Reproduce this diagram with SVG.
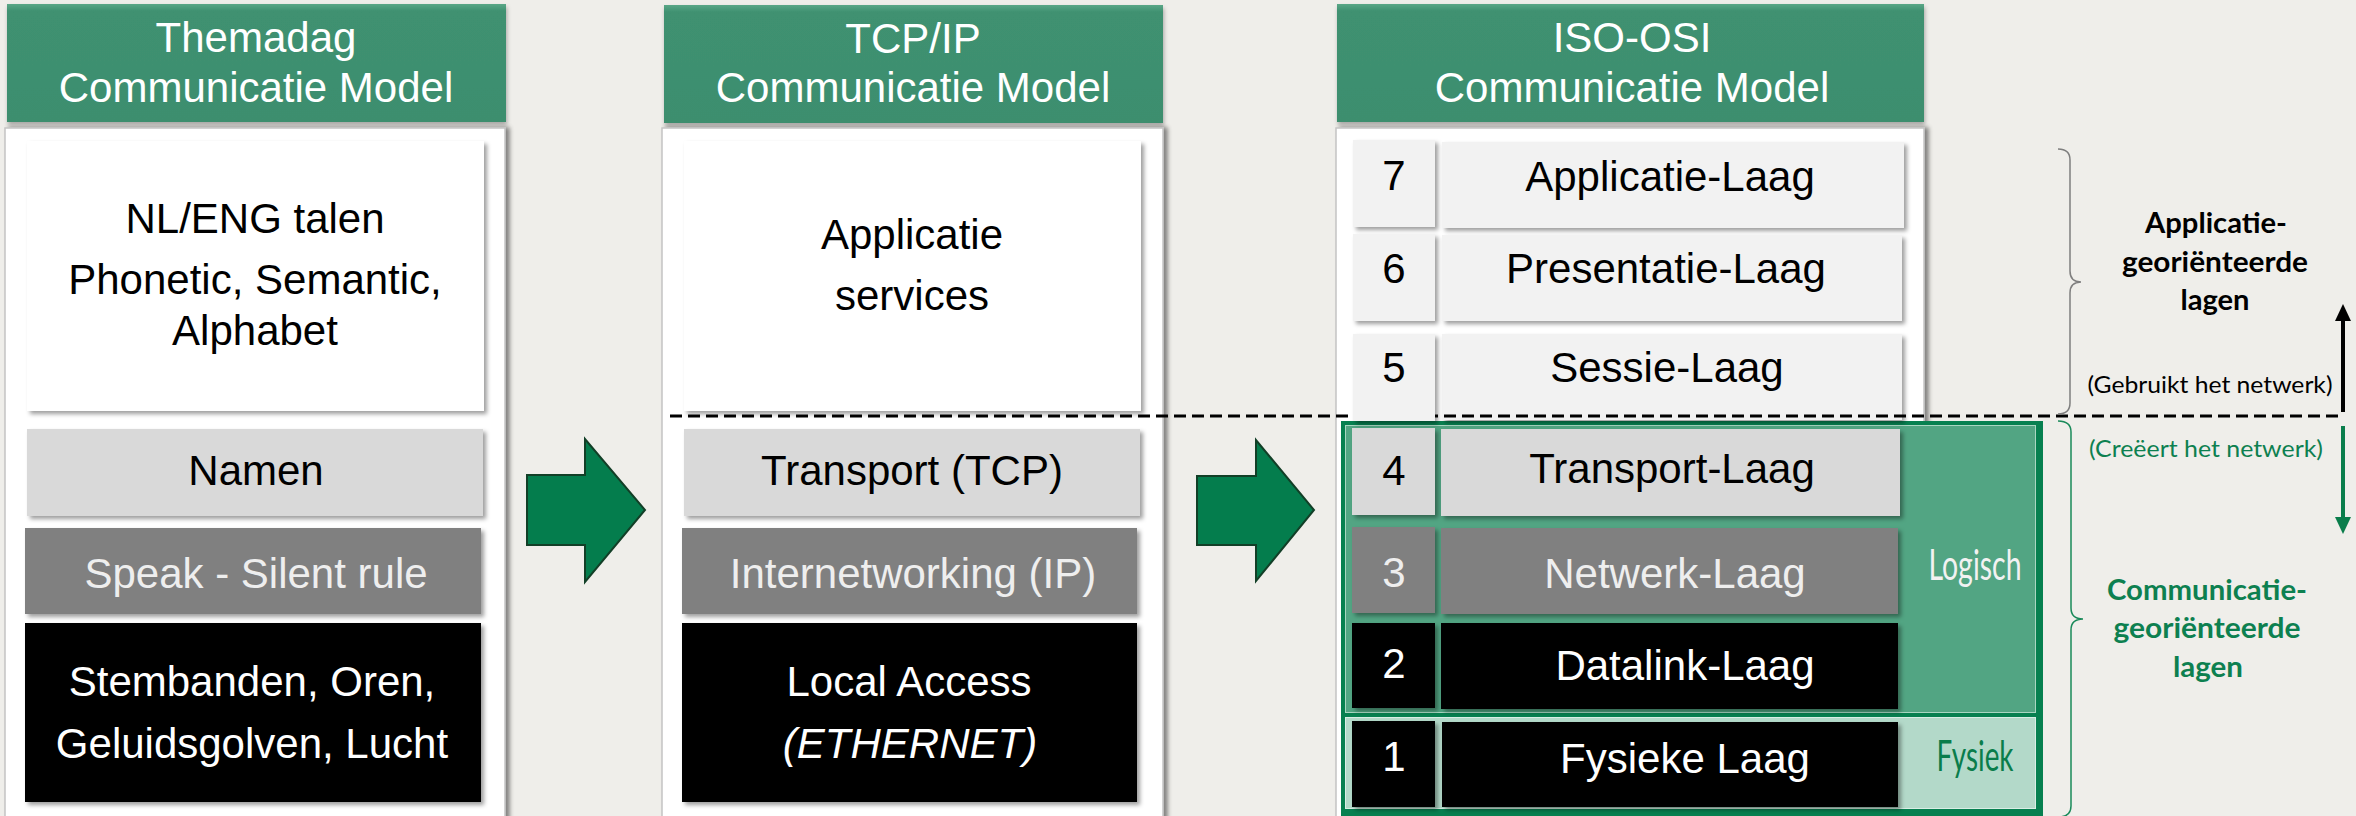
<svg xmlns="http://www.w3.org/2000/svg" width="2356" height="816" viewBox="0 0 2356 816">
  <defs>
    <linearGradient id="hdrFill" x1="0" y1="0" x2="0" y2="1">
      <stop offset="0" stop-color="#5aa787"/>
      <stop offset="0.06" stop-color="#3f9171"/>
      <stop offset="1" stop-color="#3d8e6e"/>
    </linearGradient>
    <filter id="boxShadow" x="-5%" y="-5%" width="115%" height="120%">
      <feDropShadow dx="3" dy="3" stdDeviation="2" flood-color="#000" flood-opacity="0.38"/>
    </filter>
    <filter id="panelShadow" x="-5%" y="-5%" width="115%" height="115%">
      <feDropShadow dx="4" dy="0" stdDeviation="2" flood-color="#000" flood-opacity="0.45"/>
    </filter>
    <filter id="hdrShadow" x="-5%" y="-10%" width="115%" height="130%">
      <feDropShadow dx="1" dy="3" stdDeviation="2" flood-color="#000" flood-opacity="0.3"/>
    </filter>
  </defs>
  <style>
    .bg { fill: #efeeea; }
    .hdr { fill: url(#hdrFill); filter: url(#hdrShadow); }
    .panel { fill: #ffffff; stroke: #c4c4c4; stroke-width: 1.5; filter: url(#panelShadow); }
    .box { filter: url(#boxShadow); }
    .white { fill: #ffffff; }
    .light { fill: #d9d9d9; }
    .pale { fill: #f2f2f2; }
    .mid { fill: #808080; }
    .dark { fill: #000000; }
    text { font-family: "Liberation Sans", Arial, sans-serif; font-size: 42px; text-anchor: middle; }
    .tw { fill: #ffffff; }
    .tb { fill: #000000; }
    .tg { fill: #eeeeee; }
    .side { font-family: Lato, "Open Sans", sans-serif; }
    .sideBold { font-family: Lato, "Open Sans", sans-serif; font-size: 29px; font-weight: bold; }
    .sideNote { font-family: Lato, "Open Sans", sans-serif; font-size: 23.5px; }
    .bigarrow { fill: #047d4d; stroke: #123f27; stroke-width: 2; }
  </style>

  <rect class="bg" x="0" y="0" width="2356" height="816"/>

  <!-- Column 1: Themadag -->
  <g id="themadag">
    <rect class="hdr" x="7" y="4" width="499" height="118"/>
    <text class="tw" x="256" y="52">Themadag</text>
    <text class="tw" x="256" y="102">Communicatie Model</text>
    <rect class="panel" x="5" y="128" width="500" height="700"/>
  </g>
  <g id="talen">
    <rect class="box white" x="27" y="141" width="457" height="270"/>
    <text class="tb" x="255" y="233">NL/ENG talen</text>
    <text class="tb" x="255" y="294">Phonetic, Semantic,</text>
    <text class="tb" x="255" y="345">Alphabet</text>
  </g>
  <g id="namen">
    <rect class="box light" x="27" y="429" width="456" height="87"/>
    <text class="tb" x="256" y="485">Namen</text>
  </g>
  <g id="speak">
    <rect class="box mid" x="25" y="528" width="456" height="86"/>
    <text class="tg" x="256" y="588">Speak - Silent rule</text>
  </g>
  <g id="stembanden">
    <rect class="box dark" x="25" y="623" width="456" height="179"/>
    <text class="tw" x="252" y="696">Stembanden, Oren,</text>
    <text class="tw" x="252" y="758">Geluidsgolven, Lucht</text>
  </g>

  <!-- Column 2: TCP/IP -->
  <g id="tcpip">
    <rect class="hdr" x="664" y="5" width="499" height="118"/>
    <text class="tw" x="913" y="53">TCP/IP</text>
    <text class="tw" x="913" y="102">Communicatie Model</text>
    <rect class="panel" x="662" y="128" width="501" height="700"/>
  </g>
  <g id="applicatie-services">
    <rect class="box white" x="684" y="141" width="457" height="270"/>
    <text class="tb" x="912" y="249">Applicatie</text>
    <text class="tb" x="912" y="310">services</text>
  </g>
  <g id="transport-tcp">
    <rect class="box light" x="684" y="429" width="456" height="87"/>
    <text class="tb" x="912" y="485">Transport (TCP)</text>
  </g>
  <g id="internetworking">
    <rect class="box mid" x="682" y="528" width="455" height="86"/>
    <text class="tg" x="913" y="588">Internetworking (IP)</text>
  </g>
  <g id="local-access">
    <rect class="box dark" x="682" y="623" width="455" height="179"/>
    <text class="tw" x="909" y="696">Local Access</text>
    <text class="tw" x="910" y="758" font-style="italic">(ETHERNET)</text>
  </g>

  <!-- Column 3: ISO-OSI -->
  <g id="iso-osi">
    <rect class="hdr" x="1337" y="4" width="587" height="118"/>
    <text class="tw" x="1632" y="52">ISO-OSI</text>
    <text class="tw" x="1632" y="102">Communicatie Model</text>
    <rect class="panel" x="1336" y="128" width="588" height="700"/>
  </g>

  <!-- green frame around the network layers -->
  <g id="netwerk-lagen">
    <rect x="1341" y="421" width="702" height="400" fill="#078050"/>
    <rect x="1345.5" y="425.5" width="690" height="287" fill="#52a583" stroke="#a9d6c1" stroke-width="1"/>
    <rect x="1345.5" y="717.5" width="690" height="91" fill="#b3d9c9" stroke="#d9eee5" stroke-width="1"/>
    <text class="side" x="1975" y="580" font-size="28" fill="#f2f2f2" textLength="93" lengthAdjust="spacingAndGlyphs">Logisch</text>
    <text class="side" x="1975" y="771" font-size="28" fill="#0a7d4b" textLength="77" lengthAdjust="spacingAndGlyphs">Fysiek</text>
  </g>

  <g id="laag-7">
    <rect class="box pale" x="1353" y="140" width="82" height="87"/>
    <rect class="box pale" x="1442" y="142" width="462" height="86"/>
    <text class="tb" x="1394" y="190">7</text>
    <text class="tb" x="1670" y="191">Applicatie-Laag</text>
  </g>
  <g id="laag-6">
    <rect class="box pale" x="1353" y="234" width="82" height="87"/>
    <rect class="box pale" x="1442" y="235" width="460" height="86"/>
    <text class="tb" x="1394" y="283">6</text>
    <text class="tb" x="1666" y="283">Presentatie-Laag</text>
  </g>
  <g id="laag-5-label">
    <rect class="box pale" x="1442" y="334" width="460" height="86"/>
    <text class="tb" x="1667" y="382">Sessie-Laag</text>
  </g>
  <g id="laag-4">
    <rect class="box light" x="1352" y="428" width="83" height="87"/>
    <rect class="box light" x="1441" y="429" width="459" height="87"/>
    <text class="tb" x="1394" y="485">4</text>
    <text class="tb" x="1672" y="483">Transport-Laag</text>
  </g>
  <g id="laag-3">
    <rect class="box mid" x="1352" y="527" width="83" height="86"/>
    <rect class="box mid" x="1441" y="528" width="457" height="86"/>
    <text class="tg" x="1394" y="587">3</text>
    <text class="tg" x="1675" y="588">Netwerk-Laag</text>
  </g>
  <g id="laag-2">
    <rect class="box dark" x="1352" y="623" width="83" height="85"/>
    <rect class="box dark" x="1441" y="623" width="457" height="86"/>
    <text class="tw" x="1394" y="678">2</text>
    <text class="tw" x="1685" y="680">Datalink-Laag</text>
  </g>
  <g id="laag-1">
    <rect class="box dark" x="1352" y="721" width="83" height="86"/>
    <rect class="box dark" x="1442" y="722" width="456" height="85"/>
    <text class="tw" x="1394" y="771">1</text>
    <text class="tw" x="1685" y="773">Fysieke Laag</text>
  </g>

  <!-- Side annotations -->
  <g id="applicatie-georienteerd">
    <text class="sideBold" x="2216" y="233" fill="#000" textLength="142" lengthAdjust="spacingAndGlyphs">Applicatie-</text>
    <text class="sideBold" x="2215" y="272" fill="#000" textLength="186" lengthAdjust="spacingAndGlyphs">georiënteerde</text>
    <text class="sideBold" x="2215" y="310" fill="#000" textLength="69" lengthAdjust="spacingAndGlyphs">lagen</text>
    <text class="sideNote" x="2210" y="393" fill="#000" textLength="245" lengthAdjust="spacingAndGlyphs">(Gebruikt het netwerk)</text>
  </g>
  <g id="communicatie-georienteerd">
    <text class="sideNote" x="2206" y="457" fill="#0d8050" textLength="234" lengthAdjust="spacingAndGlyphs">(Creëert het netwerk)</text>
    <text class="sideBold" x="2207" y="600" fill="#0d8050" textLength="200" lengthAdjust="spacingAndGlyphs">Communicatie-</text>
    <text class="sideBold" x="2207" y="638" fill="#0d8050" textLength="187" lengthAdjust="spacingAndGlyphs">georiënteerde</text>
    <text class="sideBold" x="2208" y="677" fill="#0d8050" textLength="70" lengthAdjust="spacingAndGlyphs">lagen</text>
  </g>

  <g id="connectors">
    <!-- mapping arrows between the models -->
    <path class="bigarrow" d="M527,475 L585,475 L585,439 L645,510 L585,582 L585,545 L527,545 Z"/>
    <path class="bigarrow" d="M1197,476 L1256,476 L1256,440 L1314,510 L1256,581 L1256,545 L1197,545 Z"/>
    <!-- boundary between application and network layers -->
    <line x1="670" y1="416" x2="2343" y2="416" stroke="#000" stroke-width="3" stroke-dasharray="12 6"/>
    <!-- braces -->
    <path d="M2058,149 Q2070,149 2070,160 L2070,271 Q2070,282 2081,282 Q2070,282 2070,293 L2070,403 Q2070,414 2058,414" fill="none" stroke="#7f7f7f" stroke-width="1.5"/>
    <path d="M2058,421 Q2071,421 2071,432 L2071,608 Q2071,619 2083,619 Q2071,619 2071,630 L2071,806 Q2071,817 2058,817" fill="none" stroke="#1a8a5a" stroke-width="1.5"/>
    <!-- direction arrows -->
    <line x1="2343" y1="412" x2="2343" y2="318" stroke="#000" stroke-width="4"/>
    <polygon points="2335,321 2351,321 2343,304" fill="#000"/>
    <line x1="2343" y1="426" x2="2343" y2="520" stroke="#0a7d4b" stroke-width="4"/>
    <polygon points="2335,517 2351,517 2343,534" fill="#0a7d4b"/>
  </g>

  <!-- number box of layer 5 sits over the boundary line -->
  <g id="laag-5-nummer">
    <rect class="box pale" x="1353" y="334" width="82" height="87"/>
    <text class="tb" x="1394" y="382">5</text>
  </g>
</svg>
